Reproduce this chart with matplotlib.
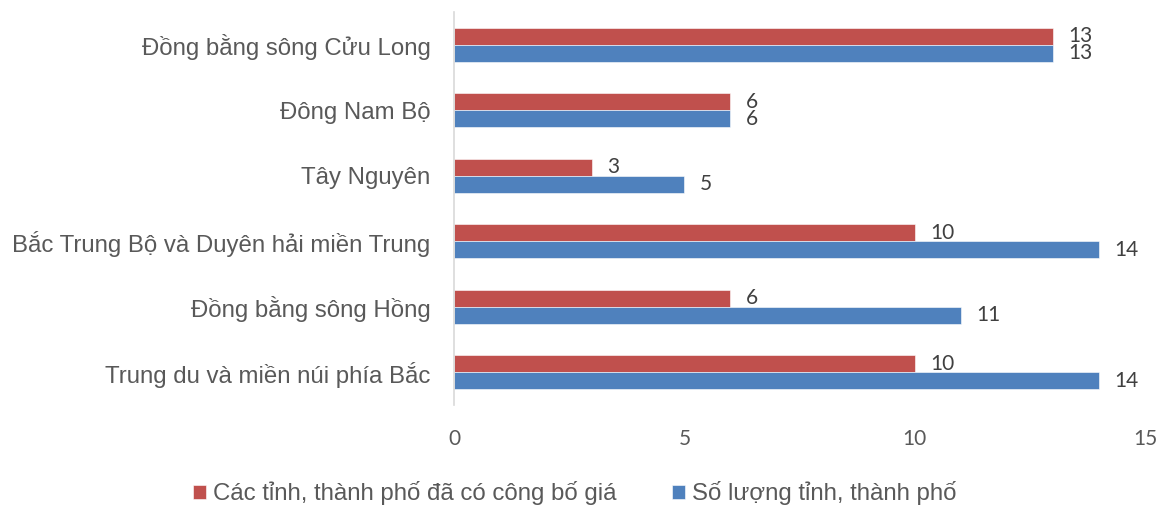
import matplotlib
matplotlib.use('Agg')
import matplotlib.pyplot as plt
import numpy as np

# regions, bottom to top as drawn
regions = ['Trung du và miền núi phía Bắc', 'Đồng bằng sông Hồng',
           'Bắc Trung Bộ và Duyên hải miền Trung', 'Tây Nguyên',
           'Đông Nam Bộ', 'Đồng bằng sông Cửu Long']
published = [10, 6, 10, 3, 6, 13]      # Các tỉnh, thành phố đã có công bố giá
total = [14, 11, 14, 5, 6, 13]         # Số lượng tỉnh, thành phố
xticks = [0, 5, 10, 15]

redC = '#C0504D'
blueC = '#4F81BD'
grey = '#595959'

fig = plt.figure(figsize=(11.66, 5.07), dpi=100)
ax = fig.add_axes([0.3894, 0.201, 0.5926, 0.775])

y = np.arange(len(regions))
h = 0.26
bRed = ax.barh(y + h/2, published, height=h, color=redC, edgecolor='white', linewidth=0.4,
               label='Các tỉnh, thành phố đã có công bố giá')
bBlue = ax.barh(y - h/2, total, height=h, color=blueC, edgecolor='white', linewidth=0.4,
                label='Số lượng tỉnh, thành phố')

ax.bar_label(bRed, padding=11, fontsize=15, family='Lato', color='#404040')
ax.bar_label(bBlue, padding=11, fontsize=15, family='Lato', color='#404040')

ax.set_xlim(0, 15)
ax.set_ylim(-0.5, len(regions) - 0.5)
ax.set_xticks(xticks)
ax.set_xticklabels([str(t) for t in xticks], fontsize=15, family='Lato', color=grey)
ax.set_yticks(y)
ax.set_yticklabels(regions, fontsize=17.3, family='Liberation Sans', color=grey)
ax.tick_params(axis='both', length=0)
ax.tick_params(axis='x', pad=17)
ax.tick_params(axis='y', pad=17)

for s in ['top', 'right', 'bottom']:
    ax.spines[s].set_visible(False)
ax.spines['left'].set_color('#D9D9D9')
ax.spines['left'].set_linewidth(1.2)

leg = fig.legend(loc='center', bbox_to_anchor=(0.493, 0.027), ncol=2, frameon=False,
                 prop={'family': 'Liberation Sans', 'size': 17.3}, handlelength=0.55,
                 handleheight=0.55, handletextpad=0.3, columnspacing=2.3)
for t in leg.get_texts():
    t.set_color(grey)

fig.savefig('out.png', dpi=100)
